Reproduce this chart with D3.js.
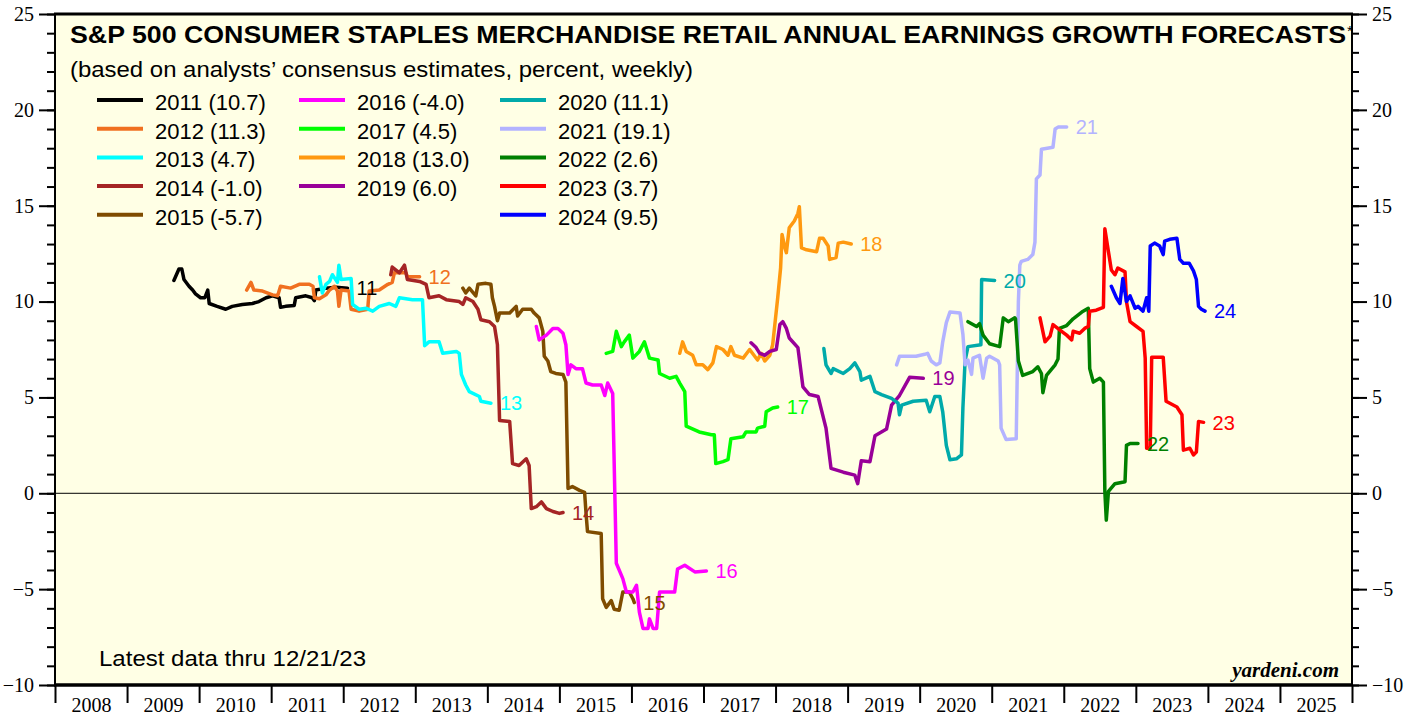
<!doctype html>
<html lang="en">
<head>
<meta charset="utf-8">
<title>S&amp;P 500 Consumer Staples Merchandise Retail</title>
<script src="https://d3js.org/d3.v7.min.js"></script>
<style>
body { margin: 0; background: #fff; }
.axis text { font-family: "Liberation Serif", "Times New Roman", serif; font-size: 20px; fill: #000; }
.axis line { stroke: #000; stroke-width: 2px; }
.axis path { display: none; }
</style>
</head>
<body>
<script>

// series: [decimal year, forecast %]
var s2011 = [[2009.65,11.1],[2009.72,11.7],[2009.76,11.7],[2009.79,11.15],[2009.86,10.8],[2009.91,10.6],[2009.95,10.4],[2010.02,10.2],[2010.08,10.2],[2010.12,10.6],[2010.14,9.9],[2010.25,9.75],[2010.37,9.6],[2010.46,9.75],[2010.60,9.85],[2010.74,9.9],[2010.83,10.0],[2010.93,10.2],[2011.02,10.3],[2011.11,10.2],[2011.13,9.7],[2011.20,9.75],[2011.32,9.8],[2011.34,10.2],[2011.48,10.3],[2011.57,10.2],[2011.60,10.05],[2011.62,10.6],[2011.76,10.7],[2011.90,10.75],[2012.06,10.7]];
var s2012 = [[2010.66,10.6],[2010.72,11.0],[2010.76,10.6],[2010.88,10.55],[2011.02,10.35],[2011.09,10.3],[2011.13,10.8],[2011.27,10.7],[2011.39,10.9],[2011.53,10.9],[2011.58,10.8],[2011.60,10.2],[2011.67,10.15],[2011.76,10.35],[2011.81,10.6],[2011.88,10.8],[2011.92,10.55],[2011.94,9.75],[2011.97,10.6],[2012.08,10.55],[2012.11,9.6],[2012.22,9.5],[2012.34,9.6],[2012.36,10.55],[2012.50,10.6],[2012.62,10.9],[2012.68,11.0],[2012.71,11.5],[2012.87,11.5],[2012.89,11.3],[2013.06,11.3]];
var s2013 = [[2011.67,11.3],[2011.71,10.45],[2011.76,10.9],[2011.81,11.05],[2011.85,11.4],[2011.92,11.0],[2011.94,11.9],[2011.97,11.15],[2012.11,11.2],[2012.13,9.85],[2012.22,9.6],[2012.32,9.65],[2012.41,9.5],[2012.50,9.75],[2012.64,9.9],[2012.73,9.75],[2012.78,10.2],[2012.96,10.1],[2013.10,10.1],[2013.13,7.7],[2013.19,7.9],[2013.33,7.9],[2013.38,7.3],[2013.57,7.4],[2013.61,7.3],[2013.64,6.2],[2013.70,5.65],[2013.75,5.3],[2013.89,5.05],[2013.91,4.8],[2014.05,4.7]];
var s2014 = [[2012.66,11.4],[2012.68,11.8],[2012.78,11.5],[2012.85,11.9],[2012.89,11.15],[2013.06,11.05],[2013.15,10.9],[2013.19,10.2],[2013.33,10.3],[2013.43,10.1],[2013.61,10.0],[2013.66,9.85],[2013.70,10.2],[2013.80,10.0],[2013.87,9.6],[2013.91,9.05],[2014.03,8.95],[2014.10,8.7],[2014.14,7.75],[2014.17,3.8],[2014.31,3.75],[2014.35,1.55],[2014.44,1.45],[2014.54,1.8],[2014.58,1.45],[2014.61,-0.8],[2014.68,-0.7],[2014.75,-0.45],[2014.82,-0.8],[2014.91,-0.95],[2015.00,-1.05],[2015.05,-1.0]];
var s2015 = [[2013.66,10.7],[2013.70,10.45],[2013.75,10.7],[2013.84,10.3],[2013.87,10.9],[2013.98,10.95],[2014.05,10.9],[2014.07,10.2],[2014.10,9.75],[2014.14,9.0],[2014.17,9.4],[2014.31,9.4],[2014.40,9.75],[2014.42,9.25],[2014.49,9.6],[2014.61,9.6],[2014.65,9.4],[2014.72,9.15],[2014.77,8.45],[2014.79,7.15],[2014.84,6.9],[2014.88,6.35],[2014.95,6.25],[2015.05,6.2],[2015.09,5.8],[2015.12,0.25],[2015.18,0.35],[2015.28,0.15],[2015.35,0.05],[2015.37,-1.05],[2015.39,-2.0],[2015.58,-2.1],[2015.60,-5.5],[2015.65,-5.95],[2015.72,-5.6],[2015.76,-6.05],[2015.83,-6.1],[2015.88,-5.15],[2015.97,-5.15],[2016.02,-5.5],[2016.04,-5.7]];
var s2016 = [[2014.68,8.7],[2014.72,8.0],[2014.82,8.25],[2014.91,8.6],[2014.98,8.6],[2015.05,8.35],[2015.09,7.75],[2015.12,6.2],[2015.16,6.7],[2015.23,6.5],[2015.32,6.5],[2015.37,5.75],[2015.46,5.65],[2015.58,5.65],[2015.63,5.1],[2015.67,5.75],[2015.74,5.2],[2015.79,-3.65],[2015.88,-4.45],[2015.93,-5.15],[2016.02,-5.15],[2016.07,-4.8],[2016.11,-6.2],[2016.16,-7.05],[2016.23,-7.05],[2016.25,-6.55],[2016.30,-7.05],[2016.35,-7.05],[2016.39,-5.15],[2016.60,-5.15],[2016.64,-3.95],[2016.74,-3.75],[2016.88,-4.1],[2017.04,-4.05]];
var s2017 = [[2015.65,7.3],[2015.74,7.4],[2015.79,8.45],[2015.86,7.65],[2015.90,7.9],[2015.97,8.25],[2016.02,7.05],[2016.11,7.4],[2016.18,7.9],[2016.25,7.05],[2016.37,6.95],[2016.39,6.25],[2016.53,6.0],[2016.62,6.1],[2016.67,5.75],[2016.74,5.3],[2016.76,3.5],[2016.94,3.2],[2017.11,3.05],[2017.15,3.05],[2017.17,1.55],[2017.27,1.65],[2017.34,1.75],[2017.38,2.85],[2017.55,2.95],[2017.59,3.2],[2017.73,3.2],[2017.75,3.4],[2017.85,3.5],[2017.87,4.25],[2017.96,4.45],[2018.03,4.5]];
var s2018 = [[2016.67,7.3],[2016.71,7.9],[2016.76,7.4],[2016.85,7.2],[2016.90,6.7],[2016.99,6.7],[2017.06,6.45],[2017.13,6.8],[2017.18,7.65],[2017.27,7.5],[2017.34,7.2],[2017.38,7.65],[2017.43,7.2],[2017.55,7.05],[2017.64,7.5],[2017.75,6.95],[2017.80,7.3],[2017.85,6.9],[2017.92,7.2],[2017.96,7.75],[2017.99,8.8],[2018.03,10.2],[2018.07,11.75],[2018.09,13.5],[2018.13,12.8],[2018.15,12.55],[2018.19,13.85],[2018.26,14.2],[2018.31,14.6],[2018.33,14.95],[2018.36,12.8],[2018.43,12.7],[2018.57,12.6],[2018.61,13.3],[2018.66,13.3],[2018.73,12.9],[2018.75,12.2],[2018.84,12.3],[2018.87,13.05],[2018.94,13.1],[2019.05,13.0]];
var s2019 = [[2017.66,7.85],[2017.73,7.6],[2017.78,7.3],[2017.85,7.2],[2017.92,7.4],[2018.01,7.5],[2018.06,8.8],[2018.10,8.95],[2018.15,8.6],[2018.19,8.1],[2018.31,7.6],[2018.38,5.55],[2018.47,5.15],[2018.59,5.05],[2018.64,4.3],[2018.70,3.4],[2018.77,1.3],[2018.94,1.1],[2019.10,0.95],[2019.14,0.5],[2019.19,1.7],[2019.31,1.65],[2019.38,3.0],[2019.54,3.35],[2019.61,4.6],[2019.72,5.1],[2019.86,6.05],[2020.05,6.0]];
var s2020 = [[2018.67,7.55],[2018.70,6.7],[2018.77,6.25],[2018.80,6.5],[2018.94,6.25],[2019.03,6.5],[2019.10,6.8],[2019.17,6.35],[2019.19,5.9],[2019.31,6.1],[2019.38,5.3],[2019.47,5.15],[2019.61,4.95],[2019.70,4.7],[2019.72,4.1],[2019.75,4.6],[2019.91,4.8],[2020.09,4.85],[2020.14,4.25],[2020.21,5.05],[2020.28,5.05],[2020.32,4.25],[2020.37,2.5],[2020.42,1.75],[2020.51,1.8],[2020.58,2.0],[2020.60,4.45],[2020.63,6.9],[2020.67,7.65],[2020.85,7.75],[2020.86,11.15],[2021.04,11.1]];
var s2021 = [[2019.68,6.7],[2019.72,7.15],[2019.95,7.15],[2020.07,7.25],[2020.11,7.3],[2020.16,6.9],[2020.23,6.7],[2020.28,6.8],[2020.32,7.9],[2020.37,8.9],[2020.42,9.45],[2020.56,9.4],[2020.60,8.3],[2020.63,6.7],[2020.67,6.95],[2020.72,6.2],[2020.74,7.05],[2020.83,7.2],[2020.88,6.0],[2020.93,7.05],[2020.97,7.15],[2021.09,6.9],[2021.11,6.7],[2021.13,3.4],[2021.20,2.8],[2021.34,2.85],[2021.37,10.0],[2021.39,11.9],[2021.41,12.1],[2021.50,12.2],[2021.57,12.45],[2021.60,13.1],[2021.62,16.4],[2021.67,16.6],[2021.69,17.95],[2021.85,18.05],[2021.88,19.0],[2021.92,19.1],[2022.04,19.1]];
var s2022 = [[2020.67,8.95],[2020.79,8.7],[2020.83,8.85],[2020.88,8.25],[2020.97,7.8],[2021.11,7.65],[2021.16,9.15],[2021.23,8.95],[2021.32,9.15],[2021.33,9.1],[2021.37,6.9],[2021.43,6.15],[2021.57,6.35],[2021.64,6.6],[2021.69,6.25],[2021.71,5.25],[2021.76,6.15],[2021.88,6.7],[2021.92,7.0],[2021.94,8.6],[2022.04,8.75],[2022.13,9.1],[2022.25,9.45],[2022.34,9.65],[2022.36,6.5],[2022.41,5.8],[2022.50,6.0],[2022.55,5.8],[2022.57,0.1],[2022.59,-1.4],[2022.62,0.1],[2022.71,0.5],[2022.85,0.6],[2022.87,2.5],[2022.92,2.6],[2023.03,2.6]];
var s2023 = [[2021.67,9.15],[2021.74,7.9],[2021.81,8.2],[2021.85,8.8],[2021.97,8.45],[2022.04,8.25],[2022.11,8.0],[2022.13,8.45],[2022.22,8.35],[2022.29,8.6],[2022.34,8.7],[2022.36,9.5],[2022.45,9.55],[2022.55,9.7],[2022.57,13.8],[2022.62,12.6],[2022.66,11.65],[2022.71,11.4],[2022.75,11.75],[2022.85,11.55],[2022.87,10.0],[2022.92,8.95],[2023.01,8.7],[2023.10,8.45],[2023.13,7.05],[2023.15,2.35],[2023.20,2.35],[2023.22,7.1],[2023.38,7.1],[2023.42,4.8],[2023.57,4.5],[2023.64,4.1],[2023.66,2.25],[2023.75,2.35],[2023.80,2.0],[2023.84,2.15],[2023.87,3.75],[2023.94,3.7]];
var s2024 = [[2022.66,10.8],[2022.73,10.2],[2022.78,9.9],[2022.82,11.2],[2022.87,10.0],[2022.92,10.3],[2022.99,9.65],[2023.03,9.75],[2023.10,9.5],[2023.15,10.2],[2023.18,9.5],[2023.20,12.9],[2023.26,13.05],[2023.33,12.9],[2023.38,12.45],[2023.40,13.15],[2023.47,13.25],[2023.57,13.3],[2023.61,12.2],[2023.66,12.0],[2023.74,12.0],[2023.80,11.6],[2023.84,11.15],[2023.87,9.75],[2023.91,9.6],[2023.96,9.5]];

var years  = [2011, 2012, 2013, 2014, 2015, 2016, 2017, 2018, 2019, 2020, 2021, 2022, 2023, 2024];
var finals = ["10.7", "11.3", "4.7", "-1.0", "-5.7", "-4.0", "4.5", "13.0", "6.0", "11.1", "19.1", "2.6", "3.7", "9.5"];
var series = [s2011, s2012, s2013, s2014, s2015, s2016, s2017, s2018, s2019, s2020, s2021, s2022, s2023, s2024];
var colors = ["#000000", "#f07020", "#00ffff", "#a52525", "#7f4c00", "#ff00ff", "#00ff00",
              "#ff9910", "#990099", "#00aaaa", "#b3b3ff", "#008000", "#ff0000", "#0000ff"];

var yMajor = [-10, -5, 0, 5, 10, 15, 20, 25];
var xYears = d3.range(2008, 2027);
var yearLabels = d3.range(2008, 2026);

var W = 1416, H = 717;
var plotLeft = 55, plotRight = 1352, plotTop = 14, plotBottom = 685;

var x = d3.scaleLinear().domain([2008, 2026]).range([plotLeft, plotRight]);
var y = d3.scaleLinear().domain([-10, 25]).range([plotBottom, plotTop]);

var svg = d3.select("body").append("svg")
  .attr("width", W)
  .attr("height", H);

svg.append("rect")
  .attr("x", plotLeft).attr("y", plotTop)
  .attr("width", plotRight - plotLeft).attr("height", plotBottom - plotTop)
  .attr("fill", "#ffffe5");

// zero line
svg.append("line")
  .attr("x1", plotLeft).attr("x2", plotRight)
  .attr("y1", y(0)).attr("y2", y(0))
  .attr("stroke", "#000").attr("stroke-width", 1);

// y axes, left and right
var minors = d3.range(-10, 26);
svg.append("g").attr("class", "axis")
  .attr("transform", "translate(" + plotLeft + ",0)")
  .call(d3.axisLeft(y).tickValues(minors).tickSize(8).tickFormat(""));
svg.append("g").attr("class", "axis")
  .attr("transform", "translate(" + plotLeft + ",0)")
  .call(d3.axisLeft(y).tickValues(yMajor).tickSize(16).tickPadding(5).tickFormat(d3.format("d")));
svg.append("g").attr("class", "axis")
  .attr("transform", "translate(" + plotRight + ",0)")
  .call(d3.axisRight(y).tickValues(minors).tickSize(7).tickFormat(""));
svg.append("g").attr("class", "axis")
  .attr("transform", "translate(" + plotRight + ",0)")
  .call(d3.axisRight(y).tickValues(yMajor).tickSize(15).tickPadding(5).tickFormat(d3.format("d")));

// x axis: year boundaries and centred labels
svg.append("g").attr("class", "axis")
  .attr("transform", "translate(0," + plotBottom + ")")
  .call(d3.axisBottom(x).tickValues(xYears).tickSize(18).tickFormat(""));
svg.append("g").attr("class", "axis")
  .attr("transform", "translate(0," + plotBottom + ")")
  .call(d3.axisBottom(x).tickValues(yearLabels.map(d => d + 0.5)).tickSize(0).tickPadding(13)
    .tickFormat(d => Math.floor(d)));

// lines
var line = d3.line().x(d => x(d[0])).y(d => y(d[1]));

svg.selectAll(".series")
  .data(series)
  .enter()
  .append("path")
  .attr("class", "series")
  .attr("d", line)
  .attr("fill", "none")
  .attr("stroke", (d, i) => colors[i])
  .attr("stroke-width", 3.5)
  .attr("stroke-linejoin", "round")
  .attr("stroke-linecap", "round");

svg.selectAll(".endlabel")
  .data(series)
  .enter()
  .append("text")
  .attr("class", "endlabel")
  .attr("x", d => x(d[d.length - 1][0]) + 9)
  .attr("y", d => y(d[d.length - 1][1]))
  .attr("dy", "0.36em")
  .attr("fill", (d, i) => colors[i])
  .style("font-family", "'Liberation Sans', Arial, sans-serif")
  .style("font-size", "20px")
  .text((d, i) => String(years[i]).slice(2));

// frame
svg.append("rect")
  .attr("x", plotLeft).attr("y", plotTop)
  .attr("width", plotRight - plotLeft).attr("height", plotBottom - plotTop)
  .attr("fill", "none").attr("stroke", "#000").attr("stroke-width", 2);
svg.append("line")
  .attr("x1", plotLeft - 1).attr("x2", plotRight + 1)
  .attr("y1", plotTop).attr("y2", plotTop)
  .attr("stroke", "#000").attr("stroke-width", 3);
svg.append("line")
  .attr("x1", plotLeft - 1).attr("x2", plotRight + 1)
  .attr("y1", plotBottom).attr("y2", plotBottom)
  .attr("stroke", "#000").attr("stroke-width", 3.5);

// title
var sans = "'Liberation Sans', Arial, sans-serif";
svg.append("text")
  .attr("x", 70).attr("y", 43)
  .attr("textLength", 1276).attr("lengthAdjust", "spacingAndGlyphs")
  .style("font-family", sans).style("font-size", "24px").style("font-weight", "bold")
  .text("S&P 500 CONSUMER STAPLES MERCHANDISE RETAIL ANNUAL EARNINGS GROWTH FORECASTS");
svg.append("text")
  .attr("x", 1347).attr("y", 36)
  .style("font-family", sans).style("font-size", "15px")
  .text("*");
svg.append("text")
  .attr("x", 70).attr("y", 77)
  .attr("textLength", 623).attr("lengthAdjust", "spacingAndGlyphs")
  .style("font-family", sans).style("font-size", "22px")
  .text("(based on analysts\u2019 consensus estimates, percent, weekly)");

// legend
var colX = [97, 299, 500];
function legendPos(i) {
  if (i < 5) return [0, i];
  if (i < 9) return [1, i - 5];
  return [2, i - 9];
}
var leg = svg.selectAll(".leg")
  .data(years)
  .enter()
  .append("g")
  .attr("class", "leg")
  .attr("transform", (d, i) => {
    var p = legendPos(i);
    return "translate(" + colX[p[0]] + "," + (110 + p[1] * 28.7) + ")";
  });
leg.append("line")
  .attr("x1", 0).attr("x2", 46)
  .attr("y1", -10).attr("y2", -10)
  .attr("stroke", (d, i) => colors[i])
  .attr("stroke-width", 4);
leg.append("text")
  .attr("x", 58)
  .style("font-family", sans).style("font-size", "22px")
  .text((d, i) => d + " (" + finals[i] + ")");

// notes
svg.append("text")
  .attr("x", 99).attr("y", 666)
  .attr("textLength", 267).attr("lengthAdjust", "spacingAndGlyphs")
  .style("font-family", sans).style("font-size", "22px")
  .text("Latest data thru  12/21/23");
svg.append("text")
  .attr("x", 1339).attr("y", 677)
  .attr("text-anchor", "end")
  .style("font-family", "'Liberation Serif', 'Times New Roman', serif")
  .style("font-size", "21px").style("font-weight", "bold").style("font-style", "italic")
  .text("yardeni.com");

</script>
</body>
</html>
